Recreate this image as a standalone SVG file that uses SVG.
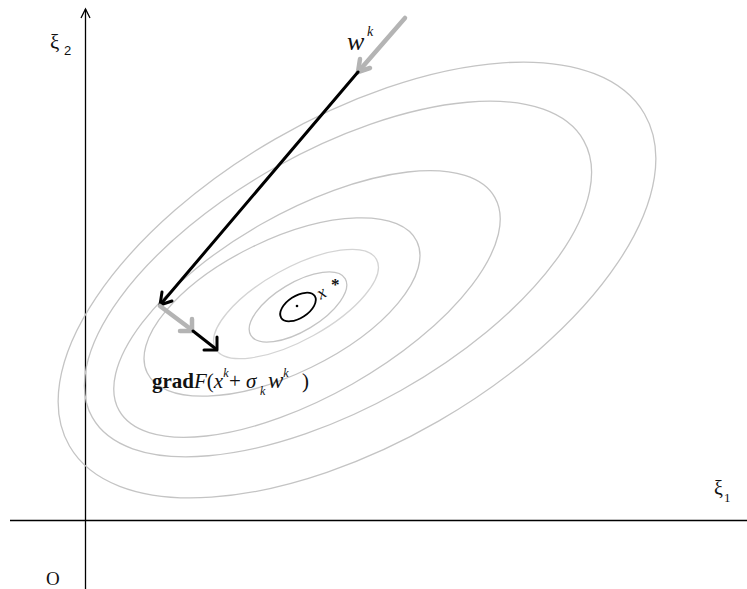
<svg xmlns="http://www.w3.org/2000/svg" width="747" height="589" viewBox="0 0 747 589">
<style>
.c{fill:none;stroke:#c4c4c4;stroke-width:1.3}
.cl{fill:none;stroke:#d4d4d4;stroke-width:1.3}
.ax{fill:none;stroke:#000;stroke-width:1.3}
.bk{fill:none;stroke:#000;stroke-width:3;stroke-linecap:round;stroke-linejoin:round}
.gy{fill:none;stroke:#b4b4b4;stroke-width:4.5;stroke-linecap:round;stroke-linejoin:round}
.t{font-family:"Liberation Serif","Times New Roman",serif;fill:#111}
.i{font-style:italic}
</style>
<rect width="747" height="589" fill="#fff"/>
<g id="axes">
<line class="ax" x1="10" y1="520.5" x2="747" y2="520.5"/>
<line class="ax" x1="85.5" y1="9" x2="85.5" y2="589"/>
<polyline class="ax" points="81,18 85.5,9 90,18"/>
</g>
<g id="contours">
<ellipse class="c" cx="357" cy="280" rx="332" ry="163" transform="rotate(-30 357 280)"/>
<ellipse class="c" cx="338" cy="279" rx="282" ry="128" transform="rotate(-29.4 338 279)"/>
<ellipse class="c" cx="307" cy="304" rx="216" ry="92" transform="rotate(-29.6 307 304)"/>
<ellipse class="c" cx="282" cy="307" rx="150" ry="67" transform="rotate(-26 282 307)"/>
<ellipse class="cl" cx="296" cy="304" rx="92" ry="36" transform="rotate(-29 296 304)"/>
<ellipse class="c" cx="298" cy="307" rx="55" ry="24" transform="rotate(-31 298 307)"/>
</g>
<g id="minimum">
<ellipse cx="298" cy="307" rx="20" ry="11" fill="none" stroke="#000" stroke-width="1.8" transform="rotate(-33 298 307)"/>
<circle cx="297" cy="306" r="1.3" fill="#000"/>
<text class="t i" x="317" y="298" font-size="18" transform="rotate(-30 322 292)">x</text>
<text class="t" x="331" y="290" font-size="17" font-weight="bold">*</text>
</g>
<g id="connectors">
<line class="gy" x1="405" y1="18" x2="358" y2="72"/>
<polyline class="gy" points="370,68 358,72 360,59"/>
<line class="bk" x1="358" y1="72" x2="160" y2="305"/>
<polyline class="bk" points="172,301 160,305 162,292"/>
<line class="gy" x1="160" y1="306" x2="192" y2="330"/>
<polyline class="gy" points="180,331 192,331 192,319"/>
<line class="bk" x1="193" y1="331" x2="216" y2="349"/>
<polyline class="bk" points="204,350 217,350 217,337"/>
</g>
<g id="labels">
<text class="t i" x="347" y="50" font-size="26">w</text>
<text class="t i" x="367" y="36" font-size="14">k</text>
<text class="t" y="388" font-size="21"><tspan x="152" font-weight="bold">grad</tspan><tspan class="i">F</tspan><tspan>(</tspan><tspan class="i">x</tspan><tspan class="i" font-size="12" y="377">k</tspan><tspan x="229" y="388">+</tspan><tspan class="i" x="246">σ</tspan><tspan class="i" x="260" y="395" font-size="12">k</tspan><tspan class="i" x="268" y="388" font-size="23">w</tspan><tspan class="i" font-size="12" y="377">k</tspan><tspan x="302" y="388">)</tspan></text>
<text class="t" x="50" y="49" font-size="21">ξ</text>
<text x="64" y="55" font-size="13" font-family="Liberation Sans,Arial,sans-serif" fill="#111">2</text>
<text class="t" x="714" y="495" font-size="20">ξ</text>
<text class="t" x="724" y="502" font-size="13">1</text>
<text class="t" x="46" y="585" font-size="19">O</text>
</g>
</svg>
